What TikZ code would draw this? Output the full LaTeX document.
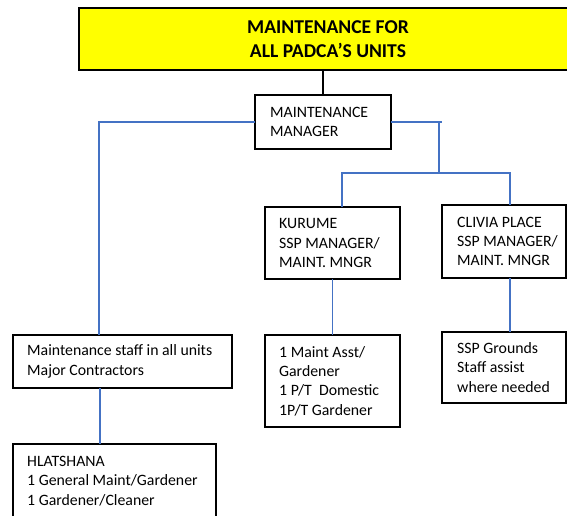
\documentclass[tikz,border=0pt]{standalone}
\usepackage{fontspec}
\setmainfont{Carlito}
\definecolor{lineblue}{RGB}{68,114,196}
\definecolor{titleyellow}{RGB}{255,255,0}
\begin{document}
\begin{tikzpicture}[x=1pt,y=-1pt,
  boxframe/.style={draw=black, line width=1.1pt, anchor=north west, outer sep=0pt, inner sep=0pt},
  boxtext/.style={anchor=west, align=left, inner sep=0pt, font=\fontsize{15.8}{19.3}\selectfont},
  blueline/.style={draw=lineblue, line width=1.2pt},
  blackline/.style={draw=black, line width=1.3pt}]
\clip (0,0) rectangle (567,515);
% title
\node[boxframe, fill=titleyellow, minimum width=498pt, minimum height=62pt,
      align=center, font=\bfseries\fontsize{19.6}{24}\selectfont] (title) at (79,8)
      {MAINTENANCE FOR\\ALL PADCA’S UNITS};
% boxes
\node[boxframe, minimum width=136pt, minimum height=54pt] (mgr) at (255,95) {};
\node[boxtext] (mgrt) at ([xshift=15pt]mgr.west) {MAINTENANCE\\MANAGER};
\node[boxframe, minimum width=135pt, minimum height=72pt] (kur) at (265,207) {};
\node[boxtext] (kurt) at ([xshift=14pt]kur.west) {KURUME\\SSP MANAGER/\\MAINT. MNGR};
\node[boxframe, minimum width=124pt, minimum height=73pt] (cli) at (442,205) {};
\node[boxtext] (clit) at ([xshift=15pt]cli.west) {CLIVIA PLACE\\SSP MANAGER/\\MAINT. MNGR};
\node[boxframe, minimum width=135pt, minimum height=92pt] (kch) at (265,335) {};
\node[boxtext] (kcht) at ([xshift=14pt]kch.west) {1 Maint Asst/\\Gardener\\1 P/T\ \ Domestic\\1P/T Gardener};
\node[boxframe, minimum width=124pt, minimum height=71pt] (cch) at (442,332) {};
\node[boxtext] (ccht) at ([xshift=15pt]cch.west) {SSP Grounds\\Staff assist\\where needed};
\node[boxframe, minimum width=219pt, minimum height=53pt] (staff) at (13,335) {};
\node[boxtext] (stafft) at ([xshift=14pt]staff.west) {Maintenance staff in all units\\Major Contractors};
\node[boxframe, minimum width=203pt, minimum height=74pt] (hlat) at (13,444) {};
\node[boxtext] (hlatt) at ([xshift=14pt]hlat.west) {HLATSHANA\\1 General Maint/Gardener\\1 Gardener/Cleaner};
% connectors
\coordinate (hub) at (439,173);
\draw[blackline] (mgr.north) -- (mgr.north |- title.south);
\draw[blueline] (mgr.west) -| ([xshift=86pt]staff.north west);
\draw[blueline] (mgr.east) -- ([xshift=3pt]mgr.east -| hub);
\draw[blueline] (mgr.east -| hub) -- (hub);
\draw[blueline] ([xshift=77pt]kur.north west) |- (hub);
\draw[blueline] (hub) -| ([xshift=68pt,yshift=2pt]cli.north west) -- ([xshift=68pt]cli.north west);
\draw[blueline] (kur.south) -- (kch.north);
\draw[blueline] ([xshift=68pt]cli.south west) -- ([xshift=68pt]cch.north west);
\draw[blueline] ([xshift=87pt]staff.south west) -- ([xshift=87pt]hlat.north west);
\end{tikzpicture}
\end{document}
